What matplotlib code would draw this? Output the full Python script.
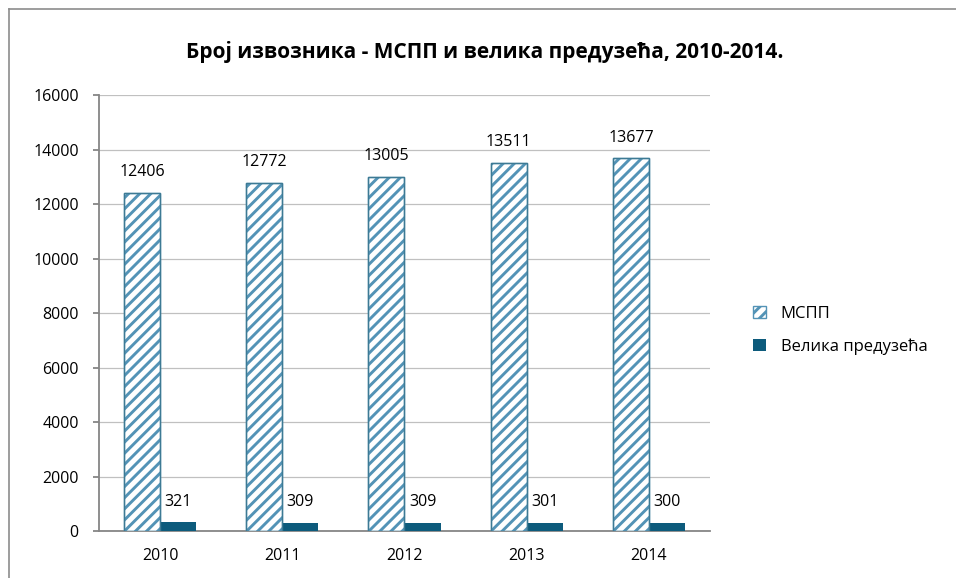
import numpy as np
import matplotlib.pyplot as plt
from matplotlib.lines import Line2D

# Подаци
godine = ["2010", "2011", "2012", "2013", "2014"]
mspp = [12406, 12772, 13005, 13511, 13677]
velika = [321, 309, 309, 301, 300]

plt.rcParams['font.family'] = ['Open Sans', 'DejaVu Sans']
plt.rcParams['hatch.linewidth'] = 2.1

fig = plt.figure(figsize=(9.56, 5.78), dpi=100)
ax = fig.add_axes([0.1035, 0.0813, 0.6392, 0.7543])

x = np.arange(len(godine))
w = 0.295
b1 = ax.bar(x - w / 2, mspp, w, color="white", edgecolor="#5393b6",
            hatch="///", linewidth=1.0, label="МСПП", zorder=3)
# тамнија ивица преко шрафираних стубића
ax.bar(x - w / 2, mspp, w, fill=False, edgecolor="#3d7a94", linewidth=1.0,
       zorder=4)
b2 = ax.bar(x + w / 2, velika, w, color="#0d5b7c", label="Велика предузећа",
            zorder=3)

for rect, v in zip(b1, mspp):
    ax.annotate(str(v), (rect.get_x() + rect.get_width() / 2, v),
                xytext=(0, 9), textcoords="offset points",
                ha="center", va="bottom", fontsize=11.5)
for rect, v in zip(b2, velika):
    ax.annotate(str(v), (rect.get_x() + rect.get_width() / 2, v),
                xytext=(0, 9), textcoords="offset points",
                ha="center", va="bottom", fontsize=11.5)

ax.set_xlim(-0.5, len(godine) - 0.5)
ax.set_ylim(0, 16000)
ax.set_yticks(range(0, 16001, 2000))
ax.set_xticks(x)
ax.set_xticklabels(godine)
ax.tick_params(axis="x", length=0, labelsize=11.5, pad=12)
ax.tick_params(axis="y", length=4.5, width=1.3, color="#868686",
               labelsize=11.5, pad=10)
ax.yaxis.grid(True, color="#c0c0c0", linewidth=0.9, zorder=0)
ax.set_axisbelow(True)
for s in ["top", "right"]:
    ax.spines[s].set_visible(False)
ax.spines["left"].set_color("#868686")
ax.spines["left"].set_linewidth(1.3)
ax.spines["bottom"].set_color("#868686")
ax.spines["bottom"].set_linewidth(1.3)

fig.text(0.507, 0.91, "Број извозника - МСПП и велика предузећа, 2010-2014.",
         ha="center", va="center", fontsize=15, fontweight="bold")

leg = fig.legend(handles=[b1, b2], loc="center left",
                 bbox_to_anchor=(0.772, 0.428), frameon=False, fontsize=12,
                 handlelength=0.75, handleheight=0.75, labelspacing=1.0,
                 handletextpad=0.9)

# оквир графикона
fig.add_artist(Line2D([9 / 956, 9 / 956], [0, 1 - 9 / 578], color="#8c8c8c",
                      linewidth=1.2, transform=fig.transFigure))
fig.add_artist(Line2D([9 / 956, 1], [1 - 9 / 578, 1 - 9 / 578], color="#8c8c8c",
                      linewidth=1.2, transform=fig.transFigure))

fig.savefig("out.png", dpi=100)
